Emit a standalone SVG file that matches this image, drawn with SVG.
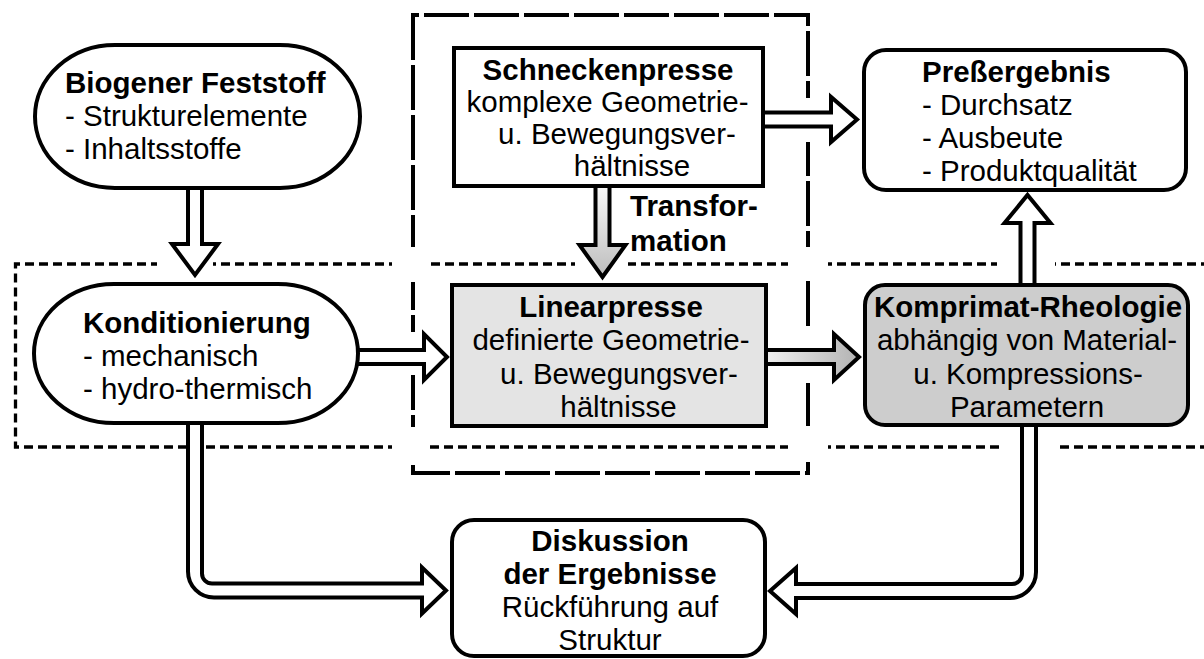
<svg xmlns="http://www.w3.org/2000/svg" width="1204" height="659" viewBox="0 0 1204 659">
<style>
.t{font-family:"Liberation Sans",Arial,sans-serif;font-size:29.5px;fill:#000}
.b{font-weight:bold}
.c{text-anchor:middle}
.node{stroke:#000;stroke-width:4}
.arr{stroke:#000;stroke-width:4;stroke-linejoin:miter;fill:#fff}
.dot{fill:none;stroke:#000;stroke-width:3.3;stroke-dasharray:9 5}
.dd{fill:none;stroke:#000;stroke-width:4;stroke-dasharray:45 5}
</style>
<defs>
<linearGradient id="gV" gradientUnits="userSpaceOnUse" x1="0" y1="188" x2="0" y2="278">
<stop offset="0" stop-color="#f8f8f8"/><stop offset="1" stop-color="#bcbcbc"/>
</linearGradient>
<linearGradient id="gH" gradientUnits="userSpaceOnUse" x1="768" y1="0" x2="860" y2="0">
<stop offset="0" stop-color="#eeeeee"/><stop offset="1" stop-color="#b2b2b2"/>
</linearGradient>
<mask id="mDot" maskUnits="userSpaceOnUse" x="0" y="0" width="1204" height="659">
<rect x="0" y="0" width="1204" height="659" fill="#fff"/>
<rect x="157" y="255" width="56" height="20" fill="#000"/>
<rect x="392" y="255" width="38" height="20" fill="#000"/>
<rect x="575" y="255" width="53" height="20" fill="#000"/>
<rect x="788" y="255" width="40" height="20" fill="#000"/>
<rect x="997" y="255" width="58" height="20" fill="#000"/>
<rect x="392" y="437" width="38" height="20" fill="#000"/>
<rect x="788" y="437" width="40" height="20" fill="#000"/>
<rect x="1003" y="437" width="52" height="20" fill="#000"/>
</mask>
<mask id="mDD" maskUnits="userSpaceOnUse" x="0" y="0" width="1204" height="659">
<rect x="0" y="0" width="1204" height="659" fill="#fff"/>
<rect x="400" y="247" width="26" height="35" fill="#000"/>
<rect x="400" y="332" width="26" height="43" fill="#000"/>
<rect x="400" y="427" width="26" height="35" fill="#000"/>
<rect x="795" y="98" width="26" height="44" fill="#000"/>
<rect x="795" y="247" width="26" height="33" fill="#000"/>
<rect x="795" y="327" width="26" height="56" fill="#000"/>
<rect x="795" y="427" width="26" height="35" fill="#000"/>
</mask>
</defs>
<rect x="0" y="0" width="1204" height="659" fill="#fff"/>

<g id="frames">
<path class="dot" mask="url(#mDot)" d="M1210,264 L15.5,264 L15.5,447 L1210,447"/>
<path class="dd" mask="url(#mDD)" d="M413,15 L413,473 L808,473 L808,15 Z"/>
</g>

<g id="connectors">
<path id="a-bio-kond" class="arr" d="M188,186 L188,244 L172,244 L195,275 L218,244 L202,244 L202,186"/>
<path id="a-kond-lin" class="arr" d="M352,350 L424,350 L424,334 L447,357 L424,380 L424,364 L352,364"/>
<path id="a-lin-komp" class="arr" style="fill:url(#gH)" d="M766,350 L834,350 L834,334 L859,357 L834,380 L834,364 L766,364"/>
<path id="a-schn-pres" class="arr" d="M763,112.5 L831,112.5 L831,97 L857,119.5 L831,142 L831,126.5 L763,126.5"/>
<path id="a-komp-pres" class="arr" d="M1020.5,287 L1020.5,223 L1004.5,223 L1027.5,195 L1050.5,223 L1034.5,223 L1034.5,287"/>
<path id="a-transform" class="arr" style="fill:url(#gV)" d="M595.5,186 L595.5,245 L579.5,245 L602.5,277 L625.5,245 L609.5,245 L609.5,186"/>
<path id="a-kond-disk" class="arr" d="M188,420 L188,571.5 A26,26 0 0 0 214,597.5 L422,597.5 L422,613.5 L446,590.5 L422,567.5 L422,583.5 L212,583.5 A10,10 0 0 1 202,573.5 L202,420"/>
<path id="a-komp-disk" class="arr" d="M1036,425 L1036,572 A26,26 0 0 1 1010,598 L796,598 L796,614 L770,591 L796,568 L796,584 L1012,584 A10,10 0 0 0 1022,574 L1022,425"/>
<text class="t b" x="630" y="216">Transfor-</text>
<text class="t b" x="630" y="251">mation</text>
</g>

<g id="biogener">
<rect class="node" x="35" y="45" width="325" height="143" rx="80" ry="71.5" fill="#fff"/>
<text class="t b" x="65" y="93">Biogener Feststoff</text>
<text class="t" x="65" y="126">- Strukturelemente</text>
<text class="t" x="65" y="159">- Inhaltsstoffe</text>
</g>

<g id="schneckenpresse">
<rect class="node" x="454" y="48" width="309" height="138" fill="#fff"/>
<text class="t b c" x="608" y="80">Schneckenpresse</text>
<text class="t c" x="607.5" y="112">komplexe Geometrie-</text>
<text class="t c" x="617" y="144">u. Bewegungsver-</text>
<text class="t c" x="632" y="176">hältnisse</text>
</g>

<g id="pressergebnis">
<rect class="node" x="864" y="50" width="322" height="140" rx="22" fill="#fff"/>
<text class="t b" x="922" y="82">Preßergebnis</text>
<text class="t" x="922" y="115">- Durchsatz</text>
<text class="t" x="922" y="148">- Ausbeute</text>
<text class="t" x="922" y="181">- Produktqualität</text>
</g>

<g id="konditionierung">
<rect class="node" x="34" y="284" width="324" height="139" rx="80" ry="69.5" fill="#fff"/>
<text class="t b" x="83" y="333">Konditionierung</text>
<text class="t" x="83" y="366">- mechanisch</text>
<text class="t" x="83" y="399">- hydro-thermisch</text>
</g>

<g id="linearpresse">
<rect class="node" x="452" y="285" width="314" height="141" fill="#e4e4e4"/>
<text class="t b c" x="611" y="317">Linearpresse</text>
<text class="t c" x="611" y="350">definierte Geometrie-</text>
<text class="t c" x="619" y="384">u. Bewegungsver-</text>
<text class="t c" x="618.5" y="417">hältnisse</text>
</g>

<g id="komprimat">
<rect class="node" x="865" y="285" width="323" height="140" rx="20" fill="#cdcdcd"/>
<text class="t b c" x="1028" y="317">Komprimat-Rheologie</text>
<text class="t c" x="1027" y="350">abhängig von Material-</text>
<text class="t c" x="1028" y="384">u. Kompressions-</text>
<text class="t c" x="1027" y="417">Parametern</text>
</g>

<g id="diskussion">
<rect class="node" x="452" y="520" width="313" height="136" rx="22" fill="#fff"/>
<text class="t b c" x="610" y="551">Diskussion</text>
<text class="t b c" x="610" y="584">der Ergebnisse</text>
<text class="t c" x="610" y="617">Rückführung auf</text>
<text class="t c" x="610" y="650">Struktur</text>
</g>
</svg>
